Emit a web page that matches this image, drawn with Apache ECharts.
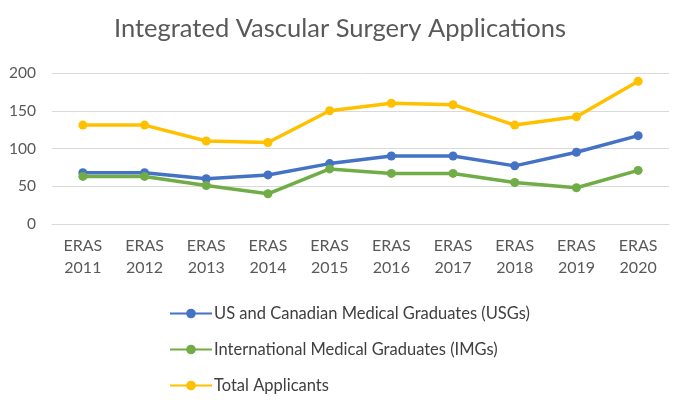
<!DOCTYPE html>
<html>
<head>
    <meta http-equiv="Content-Type" content="text/html; charset=UTF-8">
    <title>ECharts</title>
    <script src="https://cdn.jsdelivr.net/npm/echarts@6/dist/echarts.min.js"></script>
    <style>html,body{margin:0;padding:0;background:#fff;}</style>
</head>
<body>
<div id="chart" style="width: 680px; height: 407px;"></div>

<script type="text/javascript">
    var categories = ['ERAS\n2011', 'ERAS\n2012', 'ERAS\n2013', 'ERAS\n2014', 'ERAS\n2015',
                      'ERAS\n2016', 'ERAS\n2017', 'ERAS\n2018', 'ERAS\n2019', 'ERAS\n2020'];
    var usgs  = [68, 68, 60, 65, 80, 90, 90, 77, 95, 117];
    var imgs  = [63, 63, 51, 40, 73, 67, 67, 55, 48, 71];
    var total = [131, 131, 110, 108, 150, 160, 158, 131, 142, 189];
    var yTicks = [0, 50, 100, 150, 200];

    var chart = echarts.init(document.getElementById('chart'));
    var font = 'Lato, "Open Sans", sans-serif';

    function lineSeries(name, data, color) {
        return {
            name: name,
            type: 'line',
            data: data,
            symbol: 'circle',
            symbolSize: 9,
            lineStyle: {width: 3.5, color: color},
            itemStyle: {color: color},
            emphasis: {disabled: true}
        };
    }

    chart.setOption({
        animation: false,
        textStyle: {fontFamily: font},
        title: {
            text: 'Integrated Vascular Surgery Applications',
            left: 'center',
            top: 11,
            textStyle: {fontFamily: font, fontSize: 25.5, fontWeight: 'normal', color: '#595959'}
        },
        legend: {
            orient: 'vertical',
            left: 164,
            top: 300,
            itemGap: 19,
            itemWidth: 42,
            itemHeight: 12,
            textStyle: {fontFamily: font, fontSize: 16.5, color: '#404040', padding: [0, 0, 0, -3]},
            data: ['US and Canadian Medical Graduates (USGs)',
                   'International Medical Graduates (IMGs)',
                   'Total Applicants']
        },
        grid: {left: 52, right: 11, top: 73, bottom: 183, containLabel: false},
        xAxis: {
            type: 'category',
            data: categories,
            boundaryGap: true,
            axisLine: {show: true, lineStyle: {color: '#d9d9d9', width: 1}},
            axisTick: {show: false},
            axisLabel: {fontFamily: font, fontSize: 16, color: '#595959', lineHeight: 22, margin: 11}
        },
        yAxis: {
            type: 'value',
            min: yTicks[0],
            max: yTicks[yTicks.length - 1],
            interval: 50,
            axisLine: {show: false},
            axisTick: {show: false},
            axisLabel: {fontFamily: font, fontSize: 15.5, color: '#595959', margin: 16},
            splitLine: {lineStyle: {color: '#d9d9d9', width: 1}}
        },
        series: [
            lineSeries('US and Canadian Medical Graduates (USGs)', usgs, '#4472C4'),
            lineSeries('International Medical Graduates (IMGs)', imgs, '#70AD47'),
            lineSeries('Total Applicants', total, '#FFC000')
        ]
    });
</script>

</body>
</html>
